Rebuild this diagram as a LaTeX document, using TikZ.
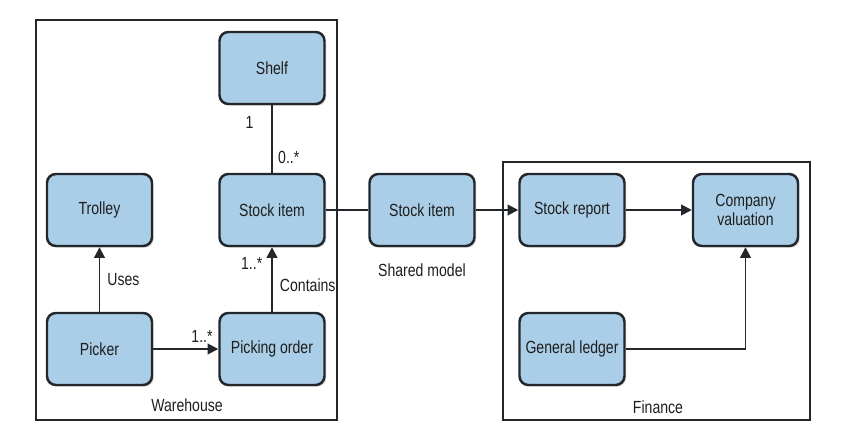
\documentclass[tikz,border=0pt]{standalone}
\usepackage{fontspec}
\setmainfont{Liberation Sans}[FakeStretch=0.8]
\usepackage{tikz}
\usetikzlibrary{positioning, arrows.meta, shadows}
\definecolor{BoxBlue}{RGB}{170,206,231}
\definecolor{BoxEdge}{RGB}{35,38,42}
\definecolor{InkGray}{RGB}{30,30,30}

\begin{document}
\begin{tikzpicture}[
            entity/.style={rectangle, rounded corners=5pt, fill=BoxBlue, draw=BoxEdge,
                           line width=1.4pt, minimum width=2.1cm, minimum height=1.44cm,
                           font=\fontsize{10}{11}\selectfont, align=center, text=InkGray,
                           drop shadow={opacity=0.25, shadow xshift=1pt, shadow yshift=-1pt}},
            context/.style={draw=BoxEdge, line width=1.1pt},
            link/.style={draw=BoxEdge, line width=1.1pt},
            rel/.style={link, -{Triangle[length=6pt, width=6pt]}},
            tag/.style={font=\fontsize{10}{11}\selectfont, text=InkGray, inner sep=1pt}
          ]
          \useasboundingbox (0,0) rectangle (17.02,8.6);

          % Bounded contexts
          \draw[context] (0.72,0.2) rectangle (6.74,8.2);
          \draw[context] (10.06,0.2) rectangle (16.2,5.36);

          % Warehouse
          \node[entity] (shelf)   at (5.44,7.24) {Shelf};
          \node[entity] (whitem)  at (5.44,4.4)  {Stock item};
          \node[entity] (trolley) at (1.99,4.4)  {Trolley};
          \node[entity] (picker)  at (1.99,1.62) {Picker};
          \node[entity] (order)   at (5.44,1.62) {Picking order};
          \node[tag] (whname) at (3.74,0.5) {Warehouse};

          % Shared model
          \node[entity] (shitem) at (8.44,4.4) {Stock item};
          \node[tag, below=0.28cm of shitem] (shname) {Shared model};

          % Finance
          \node[entity] (report)    at (11.44,4.4)  {Stock report};
          \node[entity] (valuation) at (14.91,4.4)  {Company\\valuation};
          \node[entity] (ledger)    at (11.44,1.62) {General ledger};
          \node[tag] (finname) at (13.16,0.46) {Finance};

          % Relations
          \draw[link] (shelf) -- node[tag, pos=0.26, left=9pt] {1}
                                 node[tag, pos=0.77, right=2pt] {0..*} (whitem);
          \draw[rel] (picker) -- node[tag, right=3pt] {Uses} (trolley);
          \draw[rel] (order) -- node[tag, pos=0.41, right=3pt] {Contains}
                                node[tag, pos=0.75, left=4pt] {1..*} (whitem);
          \draw[rel] (picker) -- node[tag, pos=0.75, above=2pt] {1..*} (order);
          \draw[link] (whitem) -- (shitem);
          \draw[rel] (shitem) -- (report);
          \draw[rel] (report) -- (valuation);
          \draw[rel] (ledger) -| (valuation);
        \end{tikzpicture}
\end{document}
